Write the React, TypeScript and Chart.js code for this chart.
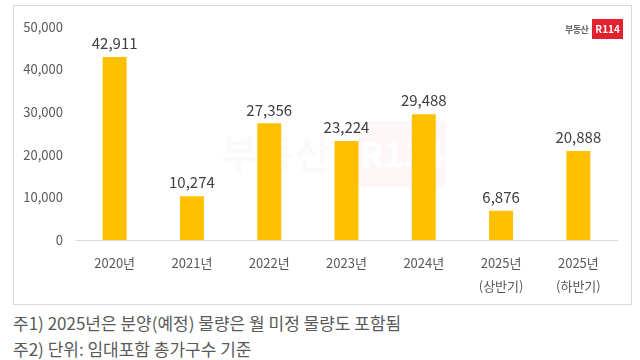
import React, { useEffect, useRef } from "react";
import { Chart, registerables } from "chart.js";

Chart.register(...registerables);

const categories: (string | string[])[] = [
  "2020년",
  "2021년",
  "2022년",
  "2023년",
  "2024년",
  ["2025년", "(상반기)"],
  ["2025년", "(하반기)"],
];
const supplyValues = [42911, 10274, 27356, 23224, 29488, 6876, 20888];
const yTicks = [0, 10000, 20000, 30000, 40000, 50000];
const notes = [
  "주1) 2025년은 분양(예정) 물량은 월 미정 물량도 포함됨",
  "주2) 단위: 임대포함 총가구수 기준",
];

const FONT = "'Noto Sans CJK KR', 'Noto Sans', sans-serif";

const valueLabelPlugin = {
  id: "valueLabels",
  afterDatasetsDraw(chart: any) {
    const ctx = chart.ctx;
    const meta = chart.getDatasetMeta(0);
    ctx.save();
    ctx.font = `15px ${FONT}`;
    ctx.fillStyle = "#404040";
    ctx.textAlign = "center";
    ctx.textBaseline = "bottom";
    meta.data.forEach((bar: any, i: number) => {
      ctx.fillText(supplyValues[i].toLocaleString("en-US"), bar.x, bar.y - 6);
    });
    ctx.restore();
  },
};

const watermarkPlugin = {
  id: "watermark",
  beforeDatasetsDraw(chart: any) {
    const ctx = chart.ctx;
    ctx.save();
    ctx.fillStyle = "rgba(230, 60, 70, 0.04)";
    ctx.fillRect(344, 115, 88, 66);
    ctx.fillStyle = "rgba(255,255,255,0.95)";
    ctx.font = `bold 34px ${FONT}`;
    ctx.textAlign = "center";
    ctx.textBaseline = "middle";
    ctx.fillText("R114", 388, 148);
    ctx.fillStyle = "rgba(0,0,0,0.02)";
    ctx.font = `bold 40px ${FONT}`;
    ctx.fillText("부동산", 262, 148);
    ctx.restore();
  },
};

export default function App() {
  const canvasRef = useRef<HTMLCanvasElement | null>(null);

  useEffect(() => {
    document.body.style.margin = "0";
    const canvas = canvasRef.current;
    if (!canvas) return;
    const chart = new Chart(canvas, {
      type: "bar",
      data: {
        labels: categories,
        datasets: [
          {
            data: supplyValues,
            backgroundColor: "#FFC000",
            borderWidth: 0,
            barPercentage: 0.31,
            categoryPercentage: 1,
          },
        ],
      },
      options: {
        animation: false,
        responsive: false,
        maintainAspectRatio: false,
        layout: { padding: { left: 0, right: 14, top: 17, bottom: 0 } },
        plugins: {
          legend: { display: false },
          tooltip: { enabled: false },
        },
        scales: {
          x: {
            grid: { display: false, drawTicks: false },
            border: { display: true, color: "#d9d9d9", width: 1 },
            ticks: {
              color: "#595959",
              font: { size: 13, family: FONT, lineHeight: 1.75 },
              padding: 12,
              maxRotation: 0,
              autoSkip: false,
            },
            afterFit(scale: any) {
              scale.height = 64;
            },
          },
          y: {
            min: 0,
            max: 50000,
            afterBuildTicks(scale: any) {
              scale.ticks = yTicks.map((v) => ({ value: v }));
            },
            grid: { display: false, drawTicks: false },
            border: { display: false },
            ticks: {
              color: "#595959",
              font: { size: 13, family: FONT },
              padding: 13,
              callback: (v: any) => Number(v).toLocaleString("en-US"),
            },
            afterFit(scale: any) {
              scale.width = 62;
            },
          },
        },
      },
      plugins: [watermarkPlugin, valueLabelPlugin],
    });
    return () => chart.destroy();
  }, []);

  return (
    <div style={{ position: "relative", width: 640, height: 360, background: "#fff", fontFamily: FONT }}>
      <div
        style={{
          position: "absolute",
          left: 13,
          top: 5,
          width: 619,
          height: 300,
          border: "1px solid #d9d9d9",
          boxSizing: "border-box",
        }}
      >
        <canvas ref={canvasRef} width={617} height={298} style={{ display: "block" }} />
        <div
          style={{
            position: "absolute",
            left: 551,
            top: 13,
            display: "flex",
            alignItems: "center",
            gap: 4,
          }}
        >
          <span style={{ fontSize: 9, color: "#666", fontWeight: 700, letterSpacing: -0.5 }}>부동산</span>
          <span
            style={{
              background: "#e3222e",
              color: "#fff",
              fontSize: 10,
              fontWeight: 700,
              padding: "3px 3px",
              lineHeight: "14px",
            }}
          >
            R114
          </span>
        </div>
      </div>
      {notes.map((n, i) => (
        <div
          key={i}
          style={{
            position: "absolute",
            left: 13,
            top: 311 + i * 26,
            fontSize: 17,
            lineHeight: "24px",
            color: "#595959",
            whiteSpace: "nowrap",
          }}
        >
          {n}
        </div>
      ))}
    </div>
  );
}
